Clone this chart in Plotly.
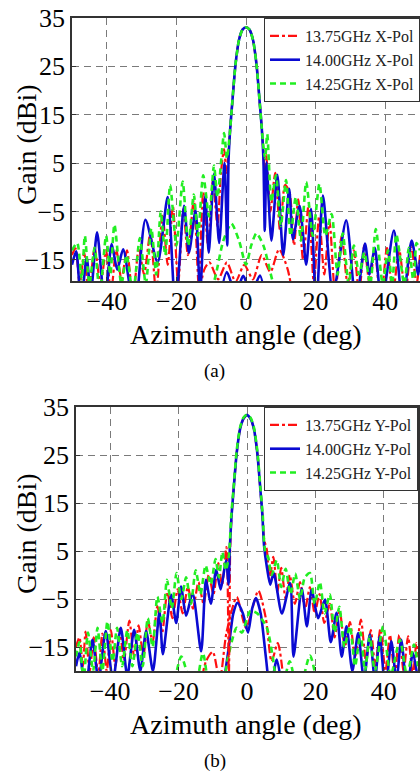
import plotly.graph_objects as go

# ---------------- Panel (a): X-Pol ----------------
A_RED_X = [-50, -49, -47.8, -46.5, -45.2, -43.5, -41.8, -40.2, -38.8, -37.3, -35.8, -34.2, -32.5, -30.8, -29.3,
           -27.5, -25.8, -24, -22.5, -21, -19.5, -18, -16.7, -15, -13.6, -12.3, -10.9, -9.5, -8.2, -7.2, -6.3,
           -5.6, -5.0, -4.5, -4, -3, -2, -1, 0, 1, 2, 3, 4, 4.5, 5.0, 5.3, 5.8, 7.0, 8.4, 9.8, 11.2, 12.5, 13.8,
           15, 16.4, 18, 19.5, 21, 22.5, 24, 25.6, 27.5, 29.2, 31, 32.5, 34, 35.5, 37, 38.7, 40.5, 42.2, 44,
           45.8, 47.5, 49, 50]
A_RED_Y = [-14, -12.6, -20, -13.5, -22, -12.5, -20, -13, -22, -12.8, -19, -13, -23, -12.5, -18,
           -9.5, -22, -5.5, -16, -4, -20, -4.5, -14, -2.5, -20, -1, -12, 1.5, -8, 3, 7.9,
           3, 7.5, 12.5, 17, 25.5, 30.5, 32.6, 33.1, 32.6, 30.5, 25.5, 17, 12.5, 7.5, 3, 6.8, -5, 3, -9, 0.5, -1, -12,
           -2.5, -15, -3.5, -20, -6, -18, -7, -22, -10, -20, -13, -22, -12, -20, -13, -24, -12.5, -22, -12.8,
           -22, -12, -20, -14]
A_RED_XP_X = [-14, -12, -10.5, -8, -5.5, -3, -0.5, 2, 4.5, 7, 9.5, 12, 14]
A_RED_XP_Y = [-25, -17, -15.5, -19, -15.5, -19.5, -16, -19, -14, -17.5, -12.8, -17, -25]

A_BLUE_X = [-50, -48.8, -47.4, -45.8, -44.6, -42.8, -40.6, -38.6, -37, -35.3, -32, -28.9, -25.4, -22.5, -20.3,
            -17.8, -16.4, -14.5, -13.2, -11.7, -10.7, -9.2, -7.7, -6.2, -5.4, -5.0, -4.5, -4, -3, -2, -1, 0,
            1, 2, 3, 4, 4.5, 5.0, 5.4, 5.9, 7.3, 9.0, 10.7, 12.4, 13.5, 15.4, 17.3, 18.7, 20.2, 22.1, 25, 28.8,
            31.6, 34.2, 35.5, 37, 39, 42.5, 45, 47.6, 49.5, 50]
A_BLUE_Y = [-16, -13.2, -24, -14.5, -22, -9.3, -24, -11.7, -17, -12.8, -26, -6.7, -15.5, -2, -25,
            -3.8, -13.5, -4.8, -22, -1.7, -13.5, 2.8, -11.5, 5, -12, 6, 12.5, 17, 25.5, 30.5, 32.6, 33.1,
            32.6, 30.5, 25.5, 17, 12.5, 6, -9, 5.2, -11, 2.6, -14, -0.3, -10.7, -3.8, -16, -4.5, -25, -1.7, -22, -6.8,
            -24, -11.6, -18, -12.5, -24, -8.9, -24, -11, -18, -15]
A_BLUE_XP_X = [-8, -5.5, -3, -0.8, 1.5, 4, 6]
A_BLUE_XP_Y = [-25, -17.5, -22, -18.3, -22, -18.2, -25]

A_GREEN_X = [-50, -48.5, -47.2, -46.3, -45, -43.5, -42, -40.2, -39, -37.8, -35.8, -34.3, -32.5, -30.5, -28.8,
             -27.2, -25.8, -24.5, -23.2, -21.8, -20, -18.2, -16.6, -15, -13.8, -12.3, -10.6, -9.2, -8.2, -6.3,
             -5.5, -5.0, -4.5, -4, -3, -2, -1, 0, 1, 2, 3, 4, 4.5, 5.0, 5.5, 6.1, 7.3, 8.6, 10, 11.5, 12.8,
             14.3, 15.8, 17.3, 19.2, 21.1, 22.8, 24.6, 26.3, 27.8, 29.5, 31, 32.5, 34, 35.7, 37.3, 39.3, 40.8,
             42, 43.2, 45.5, 46.8, 48.2, 49, 50]
A_GREEN_Y = [-13, -11.5, -19, -10, -20, -12.5, -22, -10, -18, -7.7, -20, -14, -22, -10.5, -20,
             -8.5, -18, -5, -14, 0.5, -12, 1.2, -12, -1.5, -10, 2.5, -6, 4.5, -2, 11.2,
             6, 8.5, 12.5, 17, 25.5, 30.5, 32.6, 33.1, 32.6, 30.5, 25.5, 17, 12.5, 8.5, 6, 11, -3, 2.5, -8, 1.5, -10,
             -2, -11, 1.1, -10, 0.7, -10, -5.5, -18, -9.5, -20, -12, -18, -13.5, -20, -8.6, -20, -13,
             -20, -9.7, -20, -12.5, -20, -11.5, -13]
A_GREEN_XP_X = [-12, -9, -6.5, -4.2, -2, 0, 1.5, 3, 5, 7.5, 10]
A_GREEN_XP_Y = [-25, -19, -11, -7.5, -11, -16, -12, -9.5, -12, -19, -25]

# ---------------- Panel (b): Y-Pol ----------------
B_RED_X = [-50, -49, -48, -47.2, -46, -44.8, -43.5, -42.3, -41, -39.8, -38.5, -37.2, -36, -34.4, -33, -31.7,
           -30.3, -29, -27.6, -26.2, -24.8, -23.3, -21.8, -20.3, -18.8, -17.3, -15.8, -14.2, -12.7, -11.2, -9.8,
           -8.4, -7.3, -6.0, -5.3, -4.9, -4.5, -4, -3, -2, -1, 0, 1, 2, 3, 4, 4.5, 5.0, 5.8, 6.6, 7.7, 8.9, 10,
           11.3, 12.5, 14, 15.5, 17, 18.4, 19.8, 21.2, 22.6, 24.2, 25.6, 27.1, 28.6, 30.1, 31.6, 33.3, 34.8,
           36.2, 37.5, 39, 40.5, 41.8, 43.2, 44.5, 45.8, 47.1, 48.5, 49.5, 50]
B_RED_Y = [-15, -13, -19, -11.8, -20, -13, -21, -12.2, -20, -11.5, -19, -11.2, -18, -9.5, -17, -10.5,
           -17, -9.5, -14, -6.5, -12, -3.5, -9, -3, -8, -2.5, -7, -1.5, -6, 0, -4,
           2.5, -2, 5.8, -21, 6, 12.5, 17, 25.5, 30.5, 32.6, 33.3, 32.6, 30.5, 25.5, 17, 12.5, 7.5, 5.2, -1, 3.8, -3.5, 1.5,
           -5, 0, -6, -1.5, -7, -2.5, -8, -4, -10, -6, -13, -7.5, -15, -9.8, -17, -9.3, -18,
           -11.5, -19, -11.2, -20, -12.5, -21, -12.5, -20, -12.8, -21, -14.2, -17]
B_RED_XP_X = [-14, -12, -10, -8, -6, -3, -0.3, 3.3, 5.5, 7.2, 9, 11]
B_RED_XP_Y = [-25, -18, -16, -22, -12, -4.6, -11, -3.3, -9, -18, -14.2, -24]

B_BLUE_X = [-50, -49, -47.2, -45.2, -43.4, -41.3, -39.2, -36.9, -35, -33, -31.2, -29.5, -27.5, -25.6, -24.6,
            -22.2, -20.7, -19.3, -17.8, -15.9, -13.4, -12, -10.6, -9, -7.7, -6.1, -5.4, -5.0, -4.5, -4, -3, -2,
            -1, 0, 1, 2, 3, 4, 4.5, 5.0, 5.8, 6.8, 7.8, 10.2, 12.6, 13.6, 16, 17.5, 18.9, 20.8, 22.8, 24.5, 26.2,
            27.7, 29.1, 30.8, 32.5, 34.2, 35.9, 37.4, 38.8, 40.5, 42.2, 43.7, 45.1, 46.8, 48.5, 50]
B_BLUE_Y = [-19, -16.2, -24, -13.5, -22, -11.7, -22, -11, -21, -11.4, -20, -11.7, -20, -7.6, -16.5,
            -4.1, -10, -2.4, -8.5, -3.8, -15.9, -1, -6, 1.1, -3, 3.1, -2, 6, 12.5, 17, 25.5, 30.5,
            32.6, 33.3, 32.6, 30.5, 25.5, 17, 12.5, 6, 1.7, -2, 0.4, -8, -1.7, -17, -2.8, -10.7, -3.1, -9, -5.1, -14, -7.9,
            -17, -10.7, -20, -12.1, -22, -12.4, -22, -12.8, -24, -13.8, -22, -13.5, -24, -16.2, -22]
B_BLUE_XP_X = [-7.5, -5.5, -4, -2.8, -1.2, 0.3, 1.5, 2.6, 4, 5.5, 6.8, 8.7, 10.3]
B_BLUE_XP_Y = [-26, -16, -8, -5.8, -8, -12, -7, -4.8, -8, -17, -24, -17.6, -24]

B_GREEN_X = [-50, -49, -47.8, -46.5, -45, -43.7, -42.3, -40.8, -39.3, -38, -36.5, -35, -33.5, -32, -30.5, -29,
             -27.6, -26.2, -24.7, -23.4, -22, -20.6, -19.2, -17.8, -16.4, -15, -13.6, -12.1, -10.6, -9.2, -8.2,
             -7.2, -6.2, -5.3, -4.6, -4, -3, -2, -1, 0, 1, 2, 3, 4, 4.6, 5.3, 6.2, 7.2, 8.7, 10, 11.3, 12.7,
             14.1, 15.5, 16.9, 18.4, 19.8, 21.3, 22.7, 24.2, 25.6, 27, 28.5, 30.1, 31.6, 33.2, 34.5, 35.9, 37.4,
             39.8, 42, 44.7, 46.8, 48.8, 50]
B_GREEN_Y = [-17, -14, -22, -12, -20, -11, -20, -9.7, -18, -11, -19, -11.5, -19, -12, -19, -9,
             -15, -4.5, -10, -1, -7, 0.4, -5, -0.5, -6, 1, -4, 2, -2, 3.3, -0.5,
             4.8, 1, 4, 12.5, 17.5, 26, 30.8, 32.8, 33.4, 32.8, 30.8, 26, 17.5, 12.5, 5, 3.7, 0, 3.1, -2.5, 1.3, -4,
             0.3, -5, -0.5, 0.4, -6, -1.5, -8, -4, -12, -6.6, -15, -10.7, -19, -12, -20, -12.8, -20,
             -10.7, -21, -13.5, -21, -14.5, -19]
B_GREEN_XP_X = [-22, -19.2, -15.5, -12.9, -10.5, -8, -5.5, -3, -1.5, 1, 3, 5.8, 7.5, 9.5, 12.5, 15, 18.4, 21]
B_GREEN_XP_Y = [-26, -17, -25, -16.3, -25, -26, -17, -11, -12, -7.5, -8, -11, -17, -26, -18, -25, -16.8, -25]

NAMES_A = ["13.75GHz X-Pol", "14.00GHz X-Pol", "14.25GHz X-Pol"]
NAMES_B = ["13.75GHz Y-Pol", "14.00GHz Y-Pol", "14.25GHz Y-Pol"]

X_TICKS = [-40, -20, 0, 20, 40]
Y_TICKS = [-15, -5, 5, 15, 25, 35]

X_TITLE = "Azimuth angle (deg)"
Y_TITLE = "Gain (dBi)"
CAPTIONS = ["(a)", "(b)"]

RED, BLUE, GREEN = "#ff1010", "#0a0ad2", "#22ee22"
FONT = "Liberation Serif"
W, H = 420, 771

styles = [
    dict(color=RED, width=2.2, dash="dashdot"),
    dict(color=BLUE, width=2.6, dash="solid"),
    dict(color=GREEN, width=2.6, dash="6px,4px"),
]

fig = go.Figure()

panels = [
    ("x", "y", "legend", NAMES_A,
     [(A_RED_X, A_RED_Y, A_RED_XP_X, A_RED_XP_Y),
      (A_BLUE_X, A_BLUE_Y, A_BLUE_XP_X, A_BLUE_XP_Y),
      (A_GREEN_X, A_GREEN_Y, A_GREEN_XP_X, A_GREEN_XP_Y)]),
    ("x2", "y2", "legend2", NAMES_B,
     [(B_RED_X, B_RED_Y, B_RED_XP_X, B_RED_XP_Y),
      (B_BLUE_X, B_BLUE_Y, B_BLUE_XP_X, B_BLUE_XP_Y),
      (B_GREEN_X, B_GREEN_Y, B_GREEN_XP_X, B_GREEN_XP_Y)]),
]

for xa, ya, lg, names, series in panels:
    for (cx, cy, xx, xy), st in zip(series, styles):
        fig.add_trace(go.Scatter(x=xx, y=xy, mode="lines", line=dict(**st, shape="spline", smoothing=0.7),
                                 xaxis=xa, yaxis=ya, showlegend=False, hoverinfo="skip"))
    for (cx, cy, xx, xy), st, nm in zip(series, styles, names):
        fig.add_trace(go.Scatter(x=cx, y=cy, mode="lines", name=nm,
                                 line=dict(**st, shape="spline", smoothing=0.7),
                                 xaxis=xa, yaxis=ya, legend=lg))


def px_x(p):
    return p / W


def px_y(p):
    return 1 - p / H


axis_common = dict(
    showgrid=True, gridcolor="#7a7a7a", gridwidth=1, griddash="7px,5px",
    zeroline=False, showline=True, linecolor="#333333", linewidth=1.5, mirror=True,
    ticks="inside", ticklen=4, tickcolor="#333333",
    tickfont=dict(family=FONT, size=26, color="black"),
    automargin=False,
)
title_font = dict(family=FONT, size=28, color="black")
legend_common = dict(xanchor="right", yanchor="top", bgcolor="white",
                     bordercolor="#333333", borderwidth=1, font=dict(family=FONT, size=16, color="#222"),
                     tracegroupgap=0, itemwidth=30)

annotations = []
for cap, cy, xty, yty in [(CAPTIONS[0], 371, 334, 145), (CAPTIONS[1], 761, 724, 534)]:
    annotations.append(dict(text=cap, x=px_x(215), y=px_y(cy), xref="paper", yref="paper", showarrow=False,
                            xanchor="center", yanchor="middle",
                            font=dict(family=FONT, size=19, color="black")))
    annotations.append(dict(text=X_TITLE, x=px_x(246), y=px_y(xty), xref="paper", yref="paper", showarrow=False,
                            xanchor="center", yanchor="middle", font=title_font))
    annotations.append(dict(text=Y_TITLE, x=px_x(26), y=px_y(yty), xref="paper", yref="paper", showarrow=False,
                            xanchor="center", yanchor="middle", textangle=-90, font=title_font))

xaxis_extra = dict(ticklabelstandoff=-4)

fig.update_layout(
    width=W, height=H,
    margin=dict(l=0, r=0, t=0, b=0),
    paper_bgcolor="white", plot_bgcolor="white",
    font=dict(family=FONT, color="black"),
    xaxis=dict(axis_common, **xaxis_extra, domain=[px_x(72), 1.0], range=[-50, 50], tickvals=X_TICKS, anchor="y"),
    yaxis=dict(axis_common, domain=[px_y(281), px_y(18)], range=[-19.35, 35], tickvals=Y_TICKS, anchor="x"),
    xaxis2=dict(axis_common, **xaxis_extra, domain=[px_x(76), px_x(418)], range=[-50, 50], tickvals=X_TICKS,
                anchor="y2"),
    yaxis2=dict(axis_common, domain=[px_y(671), px_y(407)], range=[-20, 35], tickvals=Y_TICKS, anchor="x2"),
    legend=dict(legend_common, x=1.0, y=px_y(18)),
    legend2=dict(legend_common, x=px_x(418), y=px_y(407)),
    annotations=annotations,
    showlegend=True,
)

fig.write_html("out.html", config={"displayModeBar": False},
               post_script="document.body.style.margin='0';")
